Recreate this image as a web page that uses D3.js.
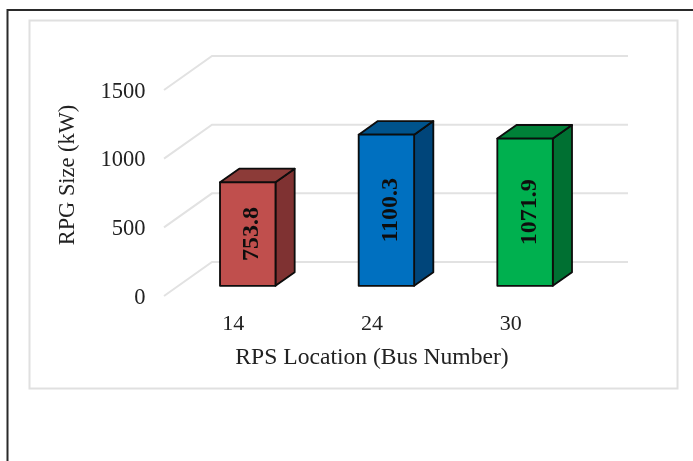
<!DOCTYPE html>
<html>
<head>
<meta charset="utf-8">
<script src="https://cdn.jsdelivr.net/npm/d3@7"></script>
<style>
  html, body { margin: 0; padding: 0; background: #fff; overflow: hidden; }
  svg { display: block; }
  text { font-family: "Liberation Serif", serif; }
</style>
</head>
<body>
<div id="chart"></div>
<script>
const categories = ["14", "24", "30"];
const sizes = [753.8, 1100.3, 1071.9];
const yTicks = [0, 500, 1000, 1500];
const faceColours = ["#c0504d", "#0070c0", "#00b050"];
const topColours = ["#8c3a38", "#00528c", "#008038"];
const sideColours = ["#7f3330", "#00457a", "#006f32"];

const width = 693, height = 461;

// Floor depth of the fake 3D box
const depth = { x: 48, y: -34 };
const barFront = 0.3, barBack = 0.7;

const svg = d3.select("#chart").append("svg")
    .attr("width", width)
    .attr("height", height);

// Soft edge, the source is a scaled screenshot
svg.append("defs").append("filter")
    .attr("id", "soft")
    .append("feGaussianBlur")
    .attr("stdDeviation", 0.55);

const root = svg.append("g").attr("filter", "url(#soft)");

// Outer frame, runs off the right and bottom of the image
root.append("path")
    .attr("d", "M7.5,461V10H693")
    .attr("fill", "none")
    .attr("stroke", "#2c2c2c")
    .attr("stroke-width", 2);

// Chart area border
root.append("rect")
    .attr("x", 29.5).attr("y", 20.5)
    .attr("width", 648).attr("height", 368)
    .attr("fill", "#fff")
    .attr("stroke", "#e0e0e0")
    .attr("stroke-width", 2);

const x = d3.scaleBand()
    .domain(categories)
    .range([164, 580])
    .paddingInner(0.6)
    .paddingOuter(0.3);

const y = d3.scaleLinear()
    .domain([0, 1500])
    .range([296, 90]);

// Gridlines: floor edge plus back wall
const grid = root.append("g");
yTicks.forEach((t) => {
    grid.append("path")
        .attr("d", d3.line()([
            [x.range()[0], y(t)],
            [x.range()[0] + depth.x, y(t) + depth.y],
            [x.range()[1] + depth.x, y(t) + depth.y]
        ]))
        .attr("fill", "none")
        .attr("stroke", "#e2e2e2")
        .attr("stroke-width", 2);
});

// Axes
const yAxis = root.append("g")
    .attr("transform", "translate(145.5, 0)")
    .call(d3.axisLeft(y).tickValues(yTicks).tickSize(0).tickPadding(0).tickFormat(d3.format("d")));
yAxis.select(".domain").remove();
yAxis.selectAll("text")
    .attr("font-size", 22.5)
    .attr("fill", "#222");

const xAxis = root.append("g")
    .attr("transform", "translate(0, 314)")
    .call(d3.axisBottom(x).tickSize(0).tickPadding(0));
xAxis.select(".domain").remove();
xAxis.selectAll("text")
    .attr("font-size", 22)
    .attr("fill", "#222");

// Bars
const bars = root.selectAll(".bar")
    .data(categories.map((c, i) => ({ group: c, value: sizes[i], i: i })))
    .enter()
    .append("g")
    .attr("class", "bar");

const px = (d, along, f) => x(d.group) + along * x.bandwidth() + f * depth.x;
const py = (v, f) => y(v) + f * depth.y;
const face = (pts) => d3.line()(pts) + "Z";

// Side
bars.append("path")
    .attr("d", (d) => face([
        [px(d, 1, barFront), py(0, barFront)],
        [px(d, 1, barBack), py(0, barBack)],
        [px(d, 1, barBack), py(d.value, barBack)],
        [px(d, 1, barFront), py(d.value, barFront)]
    ]))
    .attr("fill", (d) => sideColours[d.i]);

// Top
bars.append("path")
    .attr("d", (d) => face([
        [px(d, 0, barFront), py(d.value, barFront)],
        [px(d, 1, barFront), py(d.value, barFront)],
        [px(d, 1, barBack), py(d.value, barBack)],
        [px(d, 0, barBack), py(d.value, barBack)]
    ]))
    .attr("fill", (d) => topColours[d.i]);

// Front
bars.append("path")
    .attr("d", (d) => face([
        [px(d, 0, barFront), py(0, barFront)],
        [px(d, 1, barFront), py(0, barFront)],
        [px(d, 1, barFront), py(d.value, barFront)],
        [px(d, 0, barFront), py(d.value, barFront)]
    ]))
    .attr("fill", (d) => faceColours[d.i]);

bars.selectAll("path")
    .attr("stroke", "#0a0a0a")
    .attr("stroke-width", 1.8)
    .attr("stroke-linejoin", "round");

// Value labels
bars.append("text")
    .attr("transform", (d) => `translate(${px(d, 0.5, barFront) + 10.5}, ${(py(0, barFront) + py(d.value, barFront)) / 2}) rotate(-90)`)
    .attr("text-anchor", "middle")
    .attr("font-size", 24)
    .attr("font-weight", "bold")
    .attr("fill", "#111")
    .text((d) => d.value.toFixed(1));

// Axis titles
root.append("text")
    .attr("x", 372).attr("y", 364)
    .attr("text-anchor", "middle")
    .attr("font-size", 23.6)
    .attr("fill", "#222")
    .text("RPS Location (Bus Number)");

root.append("text")
    .attr("transform", "translate(74, 175) rotate(-90)")
    .attr("text-anchor", "middle")
    .attr("font-size", 22.4)
    .attr("fill", "#222")
    .text("RPG Size (kW)");
</script>
</body>
</html>
